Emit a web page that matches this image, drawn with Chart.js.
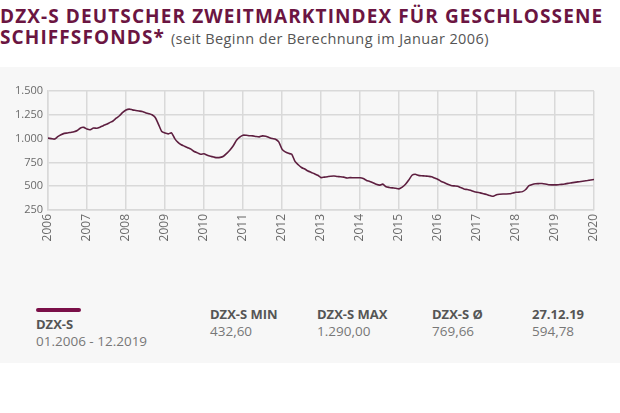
<!DOCTYPE html>
<html lang="de">
<head>
  <meta charset="UTF-8" />
  <title>DZX-S</title>
  <script src="https://cdn.jsdelivr.net/npm/chart.js"></script>
  <style>
    body {
      margin: 0;
      width: 620px;
      height: 413px;
      background: #fff;
      font-family: "Open Sans", sans-serif;
      position: relative;
      overflow: hidden;
    }
    .title {
      position: absolute;
      left: 0;
      top: 6px;
      color: #6b1542;
      font-weight: 700;
      font-size: 19px;
      line-height: 21px;
      letter-spacing: 1.1px;
      white-space: nowrap;
    }
    .title small {
      font-weight: 400;
      font-size: 14.5px;
      letter-spacing: 0.4px;
      color: #555;
    }
    .panel {
      position: absolute;
      left: 0;
      top: 67px;
      width: 620px;
      height: 296px;
      background: #f7f7f7;
    }
    #wrap {
      position: absolute;
      left: 0;
      top: 68px;
      width: 620px;
      height: 190px;
    }
    .legend {
      position: absolute;
      font-size: 13.5px;
      line-height: 17px;
      color: #777;
    }
    .legend b {
      display: block;
      color: #555;
      font-weight: 700;
      font-size: 13px;
    }
    .swatch {
      position: absolute;
      left: 36px;
      top: 308px;
      width: 45px;
      height: 4px;
      border-radius: 2px;
      background: #7a0f48;
    }
  </style>
</head>
<body>
  <div class="title">DZX-S DEUTSCHER ZWEITMARKTINDEX FÜR GESCHLOSSENE<br>SCHIFFSFONDS* <small>(seit Beginn der Berechnung im Januar 2006)</small></div>
  <div class="panel"></div>
  <div id="wrap"><canvas id="grafico"></canvas></div>

  <div class="swatch"></div>
  <div class="legend" style="left:36px; top:316px;"><b>DZX-S</b>01.2006 - 12.2019</div>
  <div class="legend" style="left:210px; top:306px;"><b>DZX-S MIN</b>432,60</div>
  <div class="legend" style="left:317px; top:306px;"><b>DZX-S MAX</b>1.290,00</div>
  <div class="legend" style="left:432px; top:306px;"><b>DZX-S Ø</b>769,66</div>
  <div class="legend" style="left:532px; top:306px;"><b>27.12.19</b>594,78</div>

  <script>
    // monatliche Werte, Januar 2006 bis Januar 2020
    const firstYear = 2006;
    const lastYear = 2020;
    const monthlyValues = [
      1005, 1000, 995, 1020, 1040, 1055, 1058, 1065, 1072, 1085, 1112, 1118,
      1100, 1093, 1112, 1108, 1120, 1136, 1150, 1168, 1185, 1214, 1240, 1275,
      1300, 1310, 1302, 1296, 1290, 1284, 1272, 1262, 1250, 1222, 1150, 1075,
      1058, 1050, 1060, 1000, 960, 935, 920, 905, 890, 864, 850, 836,
      840, 825, 814, 806, 800, 803, 815, 845, 880, 925, 982, 1015,
      1036, 1035, 1030, 1029, 1022, 1018, 1029, 1024, 1011, 1000, 993, 965,
      890, 860, 845, 835, 760, 725, 696, 680, 660, 645, 630, 615,
      590, 595, 600, 605, 607, 602, 600, 595, 586, 590, 589, 589,
      589, 580, 561, 550, 536, 520, 511, 522, 495, 487, 482, 478,
      472, 490, 520, 565, 615, 625, 614, 610, 607, 604, 600, 585,
      571, 550, 536, 520, 507, 503, 500, 485, 471, 465, 457, 445,
      436, 430, 421, 412, 402, 395, 410, 415, 418, 418, 420, 428,
      436, 438, 443, 465, 505, 518, 525, 527, 529, 524, 516, 514,
      514, 516, 519, 523, 530, 535, 540, 545, 550, 555, 560, 566,
      571
    ];
    const yMin = 250;
    const yMax = 1500;
    const yStep = 250;

    const punkte = monthlyValues.map((v, i) => ({ x: firstYear + i / 12, y: v }));

    function deNumber(v) {
      return String(v).replace(/\B(?=(\d{3})+(?!\d))/g, '.');
    }

    const gridColor = '#d9d9d9';
    const ctx = document.getElementById('grafico').getContext('2d');
    new Chart(ctx, {
      type: 'line',
      data: {
        datasets: [{
          label: 'DZX-S',
          data: punkte,
          borderColor: '#5e1f40',
          borderWidth: 1.6,
          pointRadius: 0,
          tension: 0.2,
          fill: false
        }]
      },
      options: {
        responsive: true,
        maintainAspectRatio: false,
        animation: false,
        layout: { padding: { top: 23, right: 26, left: 0, bottom: 8 } },
        plugins: { legend: { display: false }, tooltip: { enabled: false } },
        scales: {
          x: {
            type: 'linear',
            min: firstYear,
            max: lastYear,
            ticks: {
              stepSize: 1,
              minRotation: 90,
              maxRotation: 90,
              padding: 4,
              color: '#6a6a6a',
              font: { family: 'Open Sans', size: 12 },
              callback: v => String(v)
            },
            grid: { color: gridColor, lineWidth: 1.5, drawTicks: false },
            border: { color: gridColor, width: 1.5 },
            afterFit: s => { s.height = 40; }
          },
          y: {
            min: yMin,
            max: yMax,
            ticks: {
              stepSize: yStep,
              padding: 5,
              color: '#6a6a6a',
              font: { family: 'Open Sans', size: 11 },
              callback: v => deNumber(v)
            },
            grid: { color: gridColor, lineWidth: 1.5, drawTicks: false },
            border: { color: gridColor, width: 1.5 },
            afterFit: s => { s.width = 48; }
          }
        }
      }
    });
  </script>
</body>
</html>
